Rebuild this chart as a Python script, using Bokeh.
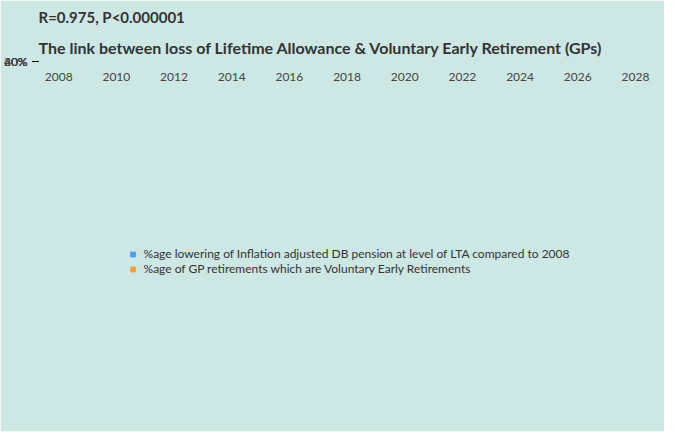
from bokeh.plotting import figure
from bokeh.models import Title, Legend, LegendItem, Range1d, FixedTicker
from bokeh.embed import file_html
from bokeh.resources import INLINE

years_blue = list(range(2008, 2029))
blue = [0, -0.8, -2.5, 0.5, 21.2, 23.0, 37.5, 38.1, 50.5, 51.0, 51.0, 51.0, 51.0, 51.2, 55.7, 59.0, 60.0, 61.0, 62.0, 63.0, 63.0]
years_orange = list(range(2008, 2022))
orange = [17.1, 20.2, 22.5, 28.5, 33.2, 42.0, 49.7, 51.4, 52.5, 60.9, 56.8, 55.6, 54.2, 58.8]
blue_label = "%age lowering of Inflation adjusted DB pension at level of LTA compared to 2008"
orange_label = "%age of GP retirements which are Voluntary Early Retirements"

BG = "#cde7e4"
p = figure(width=664, height=431, output_backend="svg", toolbar_location=None,
           background_fill_color=BG, border_fill_color=BG,
           x_range=Range1d(2007.3, 2028.8), y_range=Range1d(-2.8, 70.5),
           min_border_left=10, min_border_right=6, min_border_bottom=10, outline_line_color=None)
p.add_layout(Title(text="The link between loss of Lifetime Allowance & Voluntary Early Retirement (GPs)",
                   text_font="Lato", text_font_size="16px", text_font_style="bold", text_color="#333333"), "above")
p.add_layout(Title(text="R=0.975, P<0.000001", text_font="Lato", text_font_size="15px",
                   text_font_style="bold", text_color="#333333"), "above")

p.line(years_blue, blue, line_color="#4f9ff0", line_width=3)
p.scatter(years_blue, blue, size=5, color="#4f9ff0")
p.line(years_orange, orange, line_color="#f59f3d", line_width=3)
p.scatter(years_orange, orange, size=5, color="#f59f3d")
bsq = p.scatter([2010], [1000], marker="square", size=9, color="#4f9ff0")
osq = p.scatter([2010], [1000], marker="square", size=9, color="#f59f3d")

p.xgrid.visible = False
p.ygrid.grid_line_color = "#a9c9c5"
p.yaxis.ticker = FixedTicker(ticks=[0, 20, 40, 60])
p.yaxis.major_label_overrides = {0: "0%", 20: "20%", 40: "40%", 60: "60%"}
p.xaxis.ticker = FixedTicker(ticks=list(range(2008, 2029, 2)))
for ax in (p.xaxis, p.yaxis):
    ax.major_label_text_font = "Lato"
    ax.major_label_text_font_size = "12px"
    ax.major_label_text_color = "#444444"
    ax.minor_tick_line_color = None
p.xaxis.axis_line_color = None
p.xaxis.major_tick_line_color = None
p.yaxis.axis_line_color = "#444444"
p.yaxis.major_tick_out = 6
p.yaxis.major_tick_in = 0

leg = Legend(items=[LegendItem(label=blue_label, renderers=[bsq]),
                    LegendItem(label=orange_label, renderers=[osq])],
             location="top_center", background_fill_alpha=0, border_line_color=None,
             label_text_font="Lato", label_text_font_size="12px", label_text_color="#333333",
             spacing=0, padding=2, glyph_width=12, glyph_height=12, label_height=14, margin=4)
p.add_layout(leg, "below")

open("out.html", "w").write(file_html(p, INLINE))
